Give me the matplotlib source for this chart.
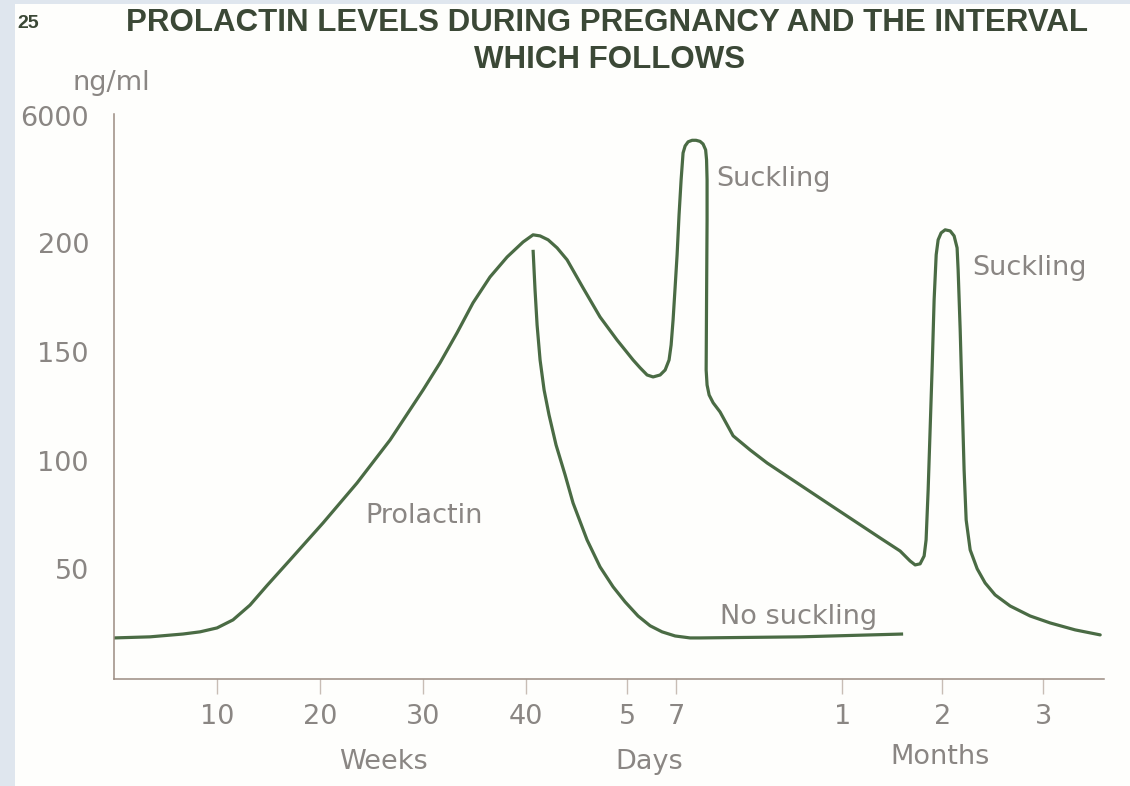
import matplotlib
matplotlib.use("Agg")
import matplotlib.pyplot as plt
from matplotlib.patches import Rectangle

# time axis: pregnancy weeks, then days / months after delivery (one running scale)
tick_pos = [10, 20, 30, 40, 49.8, 54.6, 70.7, 80.4, 90.2]
tick_labels = ["10", "20", "30", "40", "5", "7", "1", "2", "3"]

# y axis (broken at the top: 6000 shown above 200)
ytick_pos = [50, 100, 150, 200, 258.6]
ytick_labels = ["50", "100", "150", "200", "6000"]

# prolactin through pregnancy, with suckling afterwards
suckling_x = [0, 3.50, 6.70, 8.35, 10.00, 11.55, 13.20, 14.85, 17.09, 20.29,
              23.59, 26.80, 30.00, 31.65, 33.30, 34.85, 36.50, 38.16, 39.71, 40.68,
              41.36, 42.14, 43.01, 43.98, 45.53, 47.18, 48.83, 50.39,
              51.07, 51.75, 52.33, 53.01, 53.50, 53.88, 54.08, 54.27, 54.47, 54.66,
              54.85, 55.05, 55.24, 55.44, 55.73, 56.12, 56.50, 56.89, 57.18, 57.43,
              57.52, 57.57, 57.57, 57.52, 57.48, 57.57, 57.77, 58.16, 58.83, 60.10,
              61.75, 63.40, 69.81, 74.37, 76.31, 77.28, 77.77, 78.25, 78.64, 78.83,
              79.03, 79.22, 79.42, 79.61, 79.81, 80.00, 80.29, 80.68, 81.17, 81.55,
              81.84, 81.94, 82.14, 82.33, 82.52, 82.72, 83.11, 83.79, 84.56, 85.53,
              86.99, 88.93, 90.87, 93.30, 95.73]
suckling_y = [18.4, 18.9, 20.2, 21.2, 23.0, 26.7, 33.5, 42.5, 54.3, 71.3,
              89.7, 109.5, 132.5, 145.0, 158.8, 172.6, 184.5, 193.7, 200.6, 203.9,
              203.4, 201.6, 197.9, 192.4, 179.5, 166.1, 155.5, 146.3,
              142.7, 139.4, 138.5, 139.4, 141.7, 146.3, 153.2, 164.7, 179.9, 194.7,
              213.1, 229.2, 241.6, 244.8, 246.7, 247.4, 247.4, 246.9, 245.7, 243.0,
              238.4, 229.2, 210.8, 174.0, 141.7, 134.8, 130.2, 126.6, 122.4, 111.4,
              104.9, 98.9, 78.7, 64.4, 58.4, 53.8, 52.0, 52.5, 56.1, 63.5,
              86.5, 114.1, 143.1, 174.0, 194.7, 201.6, 204.8, 206.2, 205.7, 203.4,
              197.9, 187.8, 160.1, 127.9, 95.7, 72.7, 58.9, 50.2, 43.7, 38.2,
              33.1, 28.5, 25.3, 22.1, 19.8]

# no suckling branch after delivery
nosuck_x = [40.68, 40.87, 41.07, 41.36, 41.75, 42.23, 42.91, 43.79, 44.56, 45.92,
            47.18, 48.45, 49.61, 50.87, 52.04, 53.20, 54.47, 55.92, 56.89, 66.60,
            76.60]
nosuck_y = [197.0, 178.6, 162.4, 146.3, 132.5, 121.0, 107.2, 93.4, 80.5, 63.5,
            51.1, 41.9, 35.0, 28.5, 24.0, 21.2, 19.3, 18.4, 18.4, 18.9,
            20.2]

green = "#4a6b44"
grey = "#8a8683"
axcol = "#9b8c82"

fig = plt.figure(figsize=(11.3, 7.86), dpi=100, facecolor="#dfe6ee")
# paper area of the scan
fig.patches.append(Rectangle((15 / 1130, 0), 1 - 15 / 1130, 1 - 4 / 786,
                             transform=fig.transFigure, facecolor="#fefefc",
                             edgecolor="none", zorder=-10))

ax = fig.add_axes([114 / 1130, 1 - 679 / 786, 990 / 1130, 565 / 786])
ax.set_facecolor("none")
ax.plot(suckling_x, suckling_y, color=green, lw=2.3, solid_joinstyle="round",
        solid_capstyle="round")
ax.plot(nosuck_x, nosuck_y, color=green, lw=2.3, solid_joinstyle="round",
        solid_capstyle="butt")

ax.set_xlim(0, 96.1)
ax.set_ylim(-0.5, 259.5)
for s in ["top", "right"]:
    ax.spines[s].set_visible(False)
for s in ["left", "bottom"]:
    ax.spines[s].set_color(axcol)
    ax.spines[s].set_linewidth(1.1)

fs = 19.5
ax.set_xticks(tick_pos)
ax.set_xticklabels(tick_labels)
ax.set_yticks(ytick_pos)
ax.set_yticklabels(ytick_labels)
ax.tick_params(axis="x", length=11, width=1, color="#c8bdb5", pad=7,
               labelsize=fs, labelcolor=grey)
ax.tick_params(axis="y", length=0, pad=18, labelsize=fs, labelcolor=grey)

txt = dict(color=grey, fontsize=fs)
ax.text(58.5, 229.6, "Suckling", ha="left", va="center", **txt)
ax.text(83.3, 188.6, "Suckling", ha="left", va="center", **txt)
ax.text(24.4, 74.5, "Prolactin", ha="left", va="center", **txt)
ax.text(58.8, 28, "No suckling", ha="left", va="center", **txt)

fig.text(383 / 1130, 1 - 762 / 786, "Weeks", ha="center", va="center", **txt)
fig.text(649 / 1130, 1 - 762 / 786, "Days", ha="center", va="center", **txt)
fig.text(940 / 1130, 1 - 757 / 786, "Months", ha="center", va="center", **txt)
fig.text(111 / 1130, 1 - 83 / 786, "ng/ml", ha="center", va="center", **txt)

title_col = "#3b4836"
fig.text(607 / 1130, 1 - 23 / 786,
         "PROLACTIN LEVELS DURING PREGNANCY AND THE INTERVAL",
         ha="center", va="center", fontsize=22.5, fontweight="bold",
         family="Liberation Sans", color=title_col)
fig.text(610 / 1130, 1 - 60 / 786, "WHICH FOLLOWS", ha="center", va="center",
         fontsize=22.5, fontweight="bold", family="Liberation Sans",
         color=title_col)
fig.text(28 / 1130, 1 - 24 / 786, "25", ha="center", va="center", fontsize=14,
         fontweight="bold", family="Liberation Sans", color=title_col)

fig.savefig("out.png", dpi=100, facecolor=fig.get_facecolor())
